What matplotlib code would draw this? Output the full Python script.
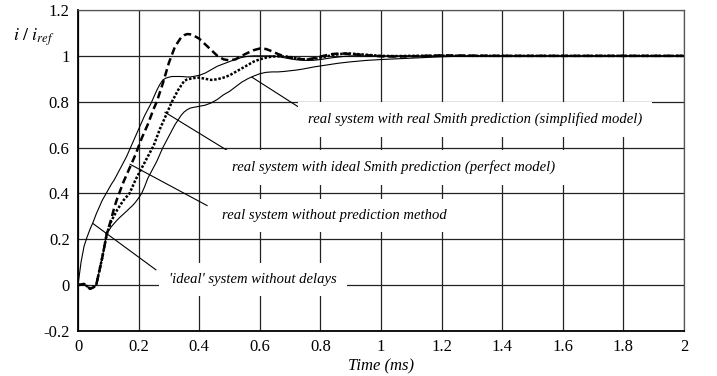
import numpy as np
import matplotlib
matplotlib.use("Agg")
import matplotlib.pyplot as plt

plt.rcParams["font.family"] = ["Liberation Serif", "DejaVu Serif"]
plt.rcParams["mathtext.fontset"] = "stix"

# time axis (ms)
t = [0, 0.01, 0.02, 0.03, 0.04, 0.05, 0.06, 0.07, 0.08, 0.095, 0.11, 0.12, 0.13, 0.14,
     0.15, 0.16, 0.17, 0.18, 0.19, 0.20, 0.21, 0.22, 0.23, 0.24, 0.25, 0.26, 0.27, 0.28,
     0.29, 0.30, 0.31, 0.32, 0.33, 0.34, 0.35, 0.36, 0.37, 0.38, 0.40, 0.42, 0.44, 0.46,
     0.48, 0.50, 0.52, 0.54, 0.56, 0.58, 0.60, 0.62, 0.64, 0.66, 0.68, 0.70, 0.72, 0.74,
     0.76, 0.78, 0.80, 0.82, 0.84, 0.86, 0.88, 0.90, 0.95, 1.0, 1.05, 1.1, 1.2, 1.3, 1.4,
     1.5, 1.6, 1.7, 1.8, 1.9, 2.0]

# 'ideal' system without delays
ideal = [0, 0.10, 0.17, 0.21, 0.245, 0.275, 0.31, 0.34, 0.37, 0.405, 0.44, 0.46, 0.485, 0.51,
         0.535, 0.56, 0.59, 0.62, 0.65, 0.68, 0.71, 0.74, 0.765, 0.79, 0.82, 0.85, 0.875, 0.895,
         0.903, 0.907, 0.91, 0.91, 0.91, 0.91, 0.909, 0.908, 0.908, 0.91, 0.915, 0.925, 0.94, 0.955,
         0.965, 0.975, 0.985, 0.993, 0.998, 1.0, 1.0, 1.0, 1.0, 0.997, 0.992, 0.987, 0.983, 0.981,
         0.98, 0.981, 0.984, 0.988, 0.992, 0.995, 0.998, 1.0, 1.0, 1.0, 1.0, 1.0, 1.0, 1.0, 1.0,
         1.0, 1.0, 1.0, 1.0, 1.0, 1.0]

# real system without prediction method
no_pred = [0, 0.003, 0.005, -0.005, -0.016, -0.01, 0.0, 0.06, 0.12, 0.224, 0.29, 0.34, 0.38, 0.415,
           0.45, 0.48, 0.51, 0.54, 0.57, 0.605, 0.64, 0.67, 0.70, 0.735, 0.77, 0.80, 0.84, 0.88,
           0.925, 0.97, 1.005, 1.04, 1.06, 1.08, 1.09, 1.095, 1.094, 1.09, 1.075, 1.05, 1.025, 1.0,
           0.985, 0.98, 0.985, 1.0, 1.013, 1.025, 1.032, 1.03, 1.02, 1.008, 0.998, 0.992, 0.988, 0.985,
           0.985, 0.99, 0.997, 1.003, 1.008, 1.01, 1.01, 1.008, 1.003, 0.998, 0.997, 0.998, 1.002, 1.001, 1.0,
           1.0, 1.0, 1.0, 1.0, 1.0, 1.0]

# real system with ideal Smith prediction (perfect model)
perfect = [0, 0.003, 0.005, -0.005, -0.016, -0.01, 0.0, 0.06, 0.12, 0.224, 0.28, 0.305, 0.33, 0.35,
           0.37, 0.385, 0.40, 0.43, 0.46, 0.485, 0.51, 0.535, 0.56, 0.585, 0.61, 0.645, 0.68, 0.71,
           0.74, 0.77, 0.80, 0.825, 0.85, 0.87, 0.89, 0.897, 0.90, 0.903, 0.905, 0.9, 0.895, 0.898,
           0.905, 0.915, 0.93, 0.945, 0.96, 0.975, 0.985, 0.992, 0.997, 0.998, 0.997, 0.995, 0.99, 0.985,
           0.984, 0.987, 0.992, 0.998, 1.003, 1.007, 1.01, 1.01, 1.005, 1.0, 0.999, 1.0, 1.001, 1.0, 1.0,
           1.0, 1.0, 1.0, 1.0, 1.0, 1.0]

# real system with real Smith prediction (simplified model)
simplified = [0, 0.003, 0.005, -0.005, -0.016, -0.01, 0.0, 0.06, 0.12, 0.224, 0.255, 0.27, 0.285, 0.298,
              0.31, 0.322, 0.335, 0.347, 0.362, 0.38, 0.40, 0.43, 0.465, 0.49, 0.515, 0.54, 0.57, 0.6,
              0.625, 0.65, 0.675, 0.70, 0.72, 0.74, 0.755, 0.765, 0.772, 0.775, 0.78, 0.785, 0.795, 0.81,
              0.83, 0.845, 0.865, 0.885, 0.90, 0.912, 0.922, 0.928, 0.93, 0.93, 0.932, 0.935, 0.938, 0.942,
              0.947, 0.952, 0.956, 0.96, 0.964, 0.968, 0.971, 0.974, 0.98, 0.984, 0.987, 0.99, 0.996, 1.0, 1.0,
              1.0, 1.0, 1.0, 1.0, 1.0, 1.0]

x_ticks = [0, 0.2, 0.4, 0.6, 0.8, 1, 1.2, 1.4, 1.6, 1.8, 2]
x_labels = ["0", "0.2", "0.4", "0.6", "0.8", "1", "1.2", "1.4", "1.6", "1.8", "2"]
y_ticks = [-0.2, 0, 0.2, 0.4, 0.6, 0.8, 1, 1.2]
y_labels = ["-0.2", "0", "0.2", "0.4", "0.6", "0.8", "1", "1.2"]

# label text, point on curve, leader end, text anchor (left, middle)
notes = [
    ("real system with real Smith prediction (simplified model)", (0.574, 0.907), (0.729, 0.776), (0.759, 0.723)),
    ("real system with ideal Smith prediction (perfect model)", (0.287, 0.754), (0.508, 0.575), (0.508, 0.513)),
    ("real system without prediction method", (0.172, 0.527), (0.426, 0.347), (0.475, 0.303)),
    ("'ideal' system without delays", (0.05, 0.268), (0.257, 0.067), (0.300, 0.024)),
]

fig = plt.figure(figsize=(7.17, 3.76), dpi=100)
ax = fig.add_axes([0.1088, 0.1197, 0.8452, 0.8537])

ax.plot(t, ideal, color="k", lw=0.8, zorder=3)
ax.plot(t, simplified, color="k", lw=0.8, zorder=3)
ax.plot(t, perfect, color="k", lw=1.8, linestyle=(0, (1.0, 0.7)), zorder=4)
ax.plot(t, no_pred, color="k", lw=1.8, linestyle=(0, (3.0, 1.6)), zorder=4)

for label, p_curve, p_end, p_text in notes:
    ax.plot([p_curve[0], p_end[0]], [p_curve[1], p_end[1]], color="k", lw=0.8, zorder=5)
    ax.text(p_text[0], p_text[1], label, ha="left", va="center", fontsize=10.5,
            style="italic", zorder=6,
            bbox=dict(boxstyle="square,pad=0.7", facecolor="white", edgecolor="none"))

ax.set_xlim(0, 2)
ax.set_ylim(-0.2, 1.2)
ax.set_xticks(x_ticks)
ax.set_xticklabels(x_labels)
ax.set_yticks(y_ticks)
ax.set_yticklabels(y_labels)
ax.tick_params(length=0, labelsize=12, pad=6)
ax.grid(True, color="#222222", lw=0.9)
ax.set_axisbelow(True)
for side in ["top", "right"]:
    ax.spines[side].set_color("#555555")
    ax.spines[side].set_linewidth(0.9)
for side in ["left", "bottom"]:
    ax.spines[side].set_linewidth(1.3)

ax.set_xlabel("Time (ms)", fontsize=12, style="italic", labelpad=2)
ax.text(-0.215, 1.08, r"$i\ /\ i_{ref}$", fontsize=13, ha="left", va="center",
        transform=ax.transData, clip_on=False)

fig.savefig("out.png", dpi=100)
